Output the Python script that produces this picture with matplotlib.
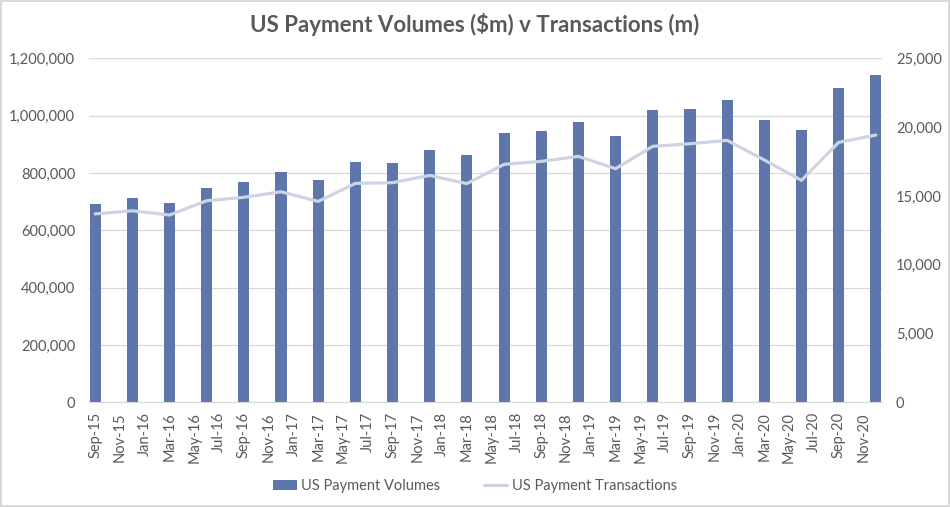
import numpy as np
import pandas as pd
import matplotlib
matplotlib.use("Agg")
import matplotlib.pyplot as plt
from matplotlib.ticker import FuncFormatter

plt.rcParams["font.family"] = ["Lato", "DejaVu Sans"]

# quarterly data, Sep-15 .. Dec-20
quarters = pd.date_range("2015-09-01", "2020-12-01", freq="3MS")
volumes = [692000, 713000, 695000, 748000, 768000, 803000, 775000, 838000,
           835000, 880000, 863000, 939000, 946000, 978000, 929000, 1020000,
           1023000, 1054000, 985000, 950000, 1096000, 1142000]
transactions = [13690, 13920, 13610, 14650, 14900, 15300, 14600, 15910,
                15960, 16490, 15890, 17290, 17510, 17870, 16980, 18600,
                18790, 19040, 17610, 16130, 18890, 19420]

# date axis labels every 2 months
tick_dates = pd.date_range("2015-09-01", periods=32, freq="2MS")
tick_labels = [d.strftime("%b-%y") for d in tick_dates]

start = quarters[0]


def month_index(d):
    return (d.year - start.year) * 12 + d.month - start.month


x_q = np.array([month_index(d) for d in quarters])
x_t = np.array([month_index(d) for d in tick_dates])

BAR = "#5E76A9"
LINE = "#CDD5E5"
GRID = "#D9D9D9"
TXT = "#595959"

fig = plt.figure(figsize=(9.5, 5.07), dpi=100)
fig.patch.set_edgecolor(GRID)
fig.patch.set_linewidth(1.5)
ax = fig.add_axes([89 / 950, 1 - 402.3 / 507, (882 - 89) / 950, (402.3 - 58.3) / 507])
ax2 = ax.twinx()

bars = ax.bar(x_q, volumes, width=0.9, color=BAR, zorder=2, label="US Payment Volumes")
ln, = ax2.plot(x_q, transactions, color=LINE, lw=2.3, zorder=3,
               solid_capstyle="round", label="US Payment Transactions")

ax.set_xlim(-0.5, 63.5)
ax.set_ylim(0, 1200000)
ax2.set_ylim(0, 25000)
ax.set_yticks(np.arange(0, 1200001, 200000))
ax2.set_yticks(np.arange(0, 25001, 5000))
ax.yaxis.set_major_formatter(FuncFormatter(lambda v, p: f"{v:,.0f}"))
ax2.yaxis.set_major_formatter(FuncFormatter(lambda v, p: f"{v:,.0f}"))
ax.set_xticks(x_t)
ax.set_xticklabels(tick_labels, rotation=90)

ax.grid(axis="y", color=GRID, lw=0.9, zorder=0)
ax.set_axisbelow(True)
for a in (ax, ax2):
    for s in a.spines.values():
        s.set_visible(False)
    a.tick_params(length=0, colors=TXT, labelsize=10.5)
ax.spines["bottom"].set_visible(True)
ax.spines["bottom"].set_color(GRID)
ax.tick_params(axis="y", pad=10)
ax2.tick_params(axis="y", pad=10)
ax.tick_params(axis="x", pad=7)

fig.suptitle("US Payment Volumes (\\$m) v Transactions (m)", x=0.5, y=0.975,
             fontsize=16, fontweight="bold", color=TXT)

fig.legend(handles=[bars, ln], loc="center", bbox_to_anchor=(0.5, 1 - 486 / 507),
           ncol=2, frameon=False, fontsize=10.5, labelcolor=TXT,
           handlelength=1.6, columnspacing=3.0, handletextpad=0.3)

fig.savefig("out.png", dpi=100, edgecolor=fig.get_edgecolor())
